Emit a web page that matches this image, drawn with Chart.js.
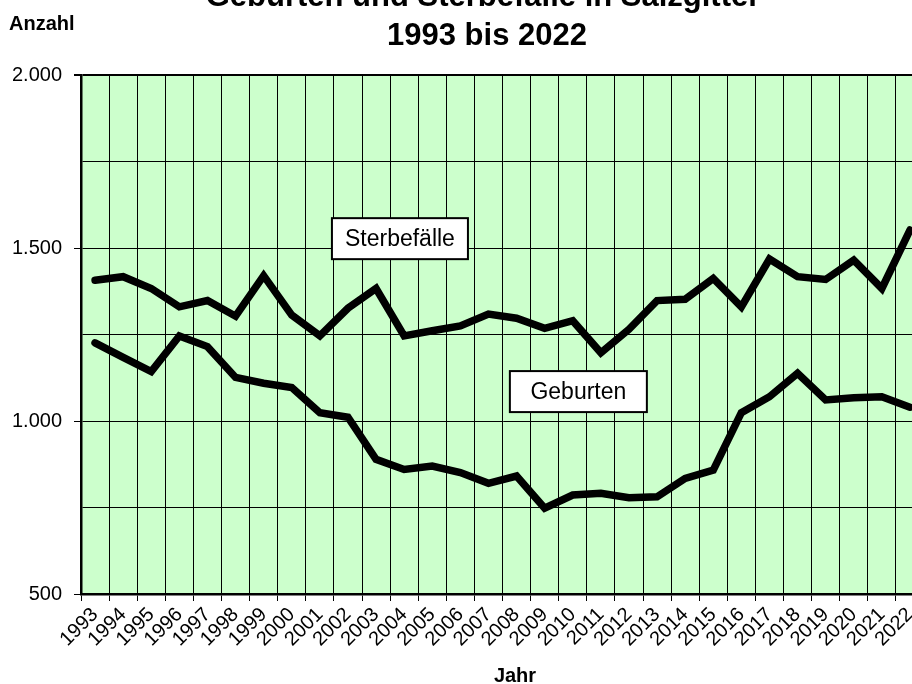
<!DOCTYPE html>
<html>
<head>
<meta charset="utf-8">
<script src="https://cdn.jsdelivr.net/npm/chart.js@4.4.1/dist/chart.umd.min.js"></script>
<style>
  html, body { margin:0; padding:0; background:#fff; overflow:hidden; width:912px; height:684px; }
  #wrap { position:absolute; left:0; top:0; width:930px; height:684px; }
</style>
</head>
<body>
<div id="wrap"><canvas id="c" width="930" height="684"></canvas></div>
<script>
// ---- data ----
const years = ['1993','1994','1995','1996','1997','1998','1999','2000','2001','2002',
               '2003','2004','2005','2006','2007','2008','2009','2010','2011','2012',
               '2013','2014','2015','2016','2017','2018','2019','2020','2021','2022'];
const sterbefaelle = [1407,1417,1383,1330,1348,1303,1420,1306,1246,1326,
                      1383,1246,1261,1275,1309,1297,1268,1290,1197,1265,
                      1348,1352,1412,1330,1468,1417,1409,1465,1383,1552];
const geburten = [1226,1184,1143,1246,1215,1126,1109,1097,1024,1011,
                  889,860,870,851,820,841,748,786,791,778,
                  781,834,858,1024,1070,1138,1061,1067,1070,1040];
const seriesNames = ['Sterbefälle','Geburten'];
const titleLines = ['Geburten und Sterbefälle in Salzgitter','1993 bis 2022'];
const yAxisLabel = 'Anzahl';
const xAxisLabel = 'Jahr';
const yMin = 500, yMax = 2000, yGridStep = 250, yLabelStep = 500;

// ---- helpers ----
const FONT = '"Liberation Sans", Arial, sans-serif';
function fmt(v){ return String(v).replace(/\B(?=(\d{3})+(?!\d))/g, '.'); }

const bgPlugin = {
  id:'bg',
  beforeDraw(chart){
    const {ctx, chartArea:a} = chart;
    ctx.save();
    ctx.fillStyle = '#CCFFCC';
    ctx.fillRect(a.left, a.top, a.right - a.left, a.bottom - a.top);
    ctx.restore();
  }
};

const labelsPlugin = {
  id:'seriesLabels',
  afterDatasetsDraw(chart, args, opts){
    const {ctx} = chart;
    const xs = chart.scales.x, ys = chart.scales.y;
    opts.items.forEach(it => {
      const cx = xs.getPixelForValue(it.cat);
      const cy = ys.getPixelForValue(it.value);
      const w = it.w, h = it.h;
      ctx.save();
      ctx.fillStyle = '#fff';
      ctx.fillRect(cx - w/2, cy - h/2, w, h);
      ctx.lineWidth = 2;
      ctx.strokeStyle = '#000';
      ctx.strokeRect(cx - w/2, cy - h/2, w, h);
      ctx.fillStyle = '#000';
      ctx.font = '23px ' + FONT;
      ctx.textAlign = 'center';
      ctx.textBaseline = 'middle';
      ctx.fillText(it.text, cx, cy + 1);
      ctx.restore();
    });
  }
};

const textPlugin = {
  id:'texts',
  afterDraw(chart){
    const {ctx} = chart;
    ctx.save();
    ctx.fillStyle = '#000';
    ctx.textBaseline = 'alphabetic';
    ctx.textAlign = 'center';
    ctx.font = 'bold 31px ' + FONT;
    ctx.fillText(titleLines[0], 483, 6);
    ctx.fillText(titleLines[1], 487, 45);
    ctx.font = 'bold 20px ' + FONT;
    ctx.textAlign = 'left';
    ctx.fillText(yAxisLabel, 9, 30);
    ctx.textAlign = 'center';
    ctx.fillText(xAxisLabel, 515, 682);
    ctx.restore();
  }
};

new Chart(document.getElementById('c'), {
  type:'line',
  data:{
    labels: years,
    datasets:[
      { label: seriesNames[0], data: sterbefaelle, borderColor:'#000', borderWidth:7.5,
        pointRadius:0, tension:0, borderJoinStyle:'miter', borderCapStyle:'round', fill:false },
      { label: seriesNames[1], data: geburten, borderColor:'#000', borderWidth:7.5,
        pointRadius:0, tension:0, borderJoinStyle:'miter', borderCapStyle:'round', fill:false }
    ]
  },
  options:{
    responsive:false,
    animation:false,
    layout:{ padding:{ top:75, right:6, bottom:0, left:0 } },
    plugins:{
      legend:{display:false},
      tooltip:{enabled:false},
      title:{display:false},
      seriesLabels:{ items:[
        { text: seriesNames[0], cat:10.85, value:1527, w:136, h:41 },
        { text: seriesNames[1], cat:17.2, value:1085, w:137, h:41 }
      ]}
    },
    scales:{
      x:{
        offset:true,
        grid:{ offset:true, color:'#000', lineWidth:1, tickLength:7, tickColor:'#000', drawOnChartArea:true },
        border:{ color:'#000', width:2.5 },
        ticks:{ autoSkip:false, maxRotation:45, minRotation:45, color:'#000',
                font:{ family:FONT, size:20 }, padding:2 },
        afterFit(s){ s.height = 90; }
      },
      y:{
        min:yMin, max:yMax,
        ticks:{ stepSize:yGridStep, color:'#000', font:{ family:FONT, size:20 }, padding:12,
                callback:(v) => (v % yLabelStep === 0 ? fmt(v) : '') },
        grid:{ color:'#000',
               lineWidth:(c) => (c.tick && c.tick.value === yMax ? 2 : 1),
               tickLength:7,
               tickColor:(c) => (c.tick && c.tick.value % yLabelStep === 0 ? '#000' : 'rgba(0,0,0,0)') },
        border:{ color:'#000', width:2.5 },
        afterFit(s){ s.width = 81; }
      }
    }
  },
  plugins:[bgPlugin, labelsPlugin, textPlugin]
});
</script>
</body>
</html>
